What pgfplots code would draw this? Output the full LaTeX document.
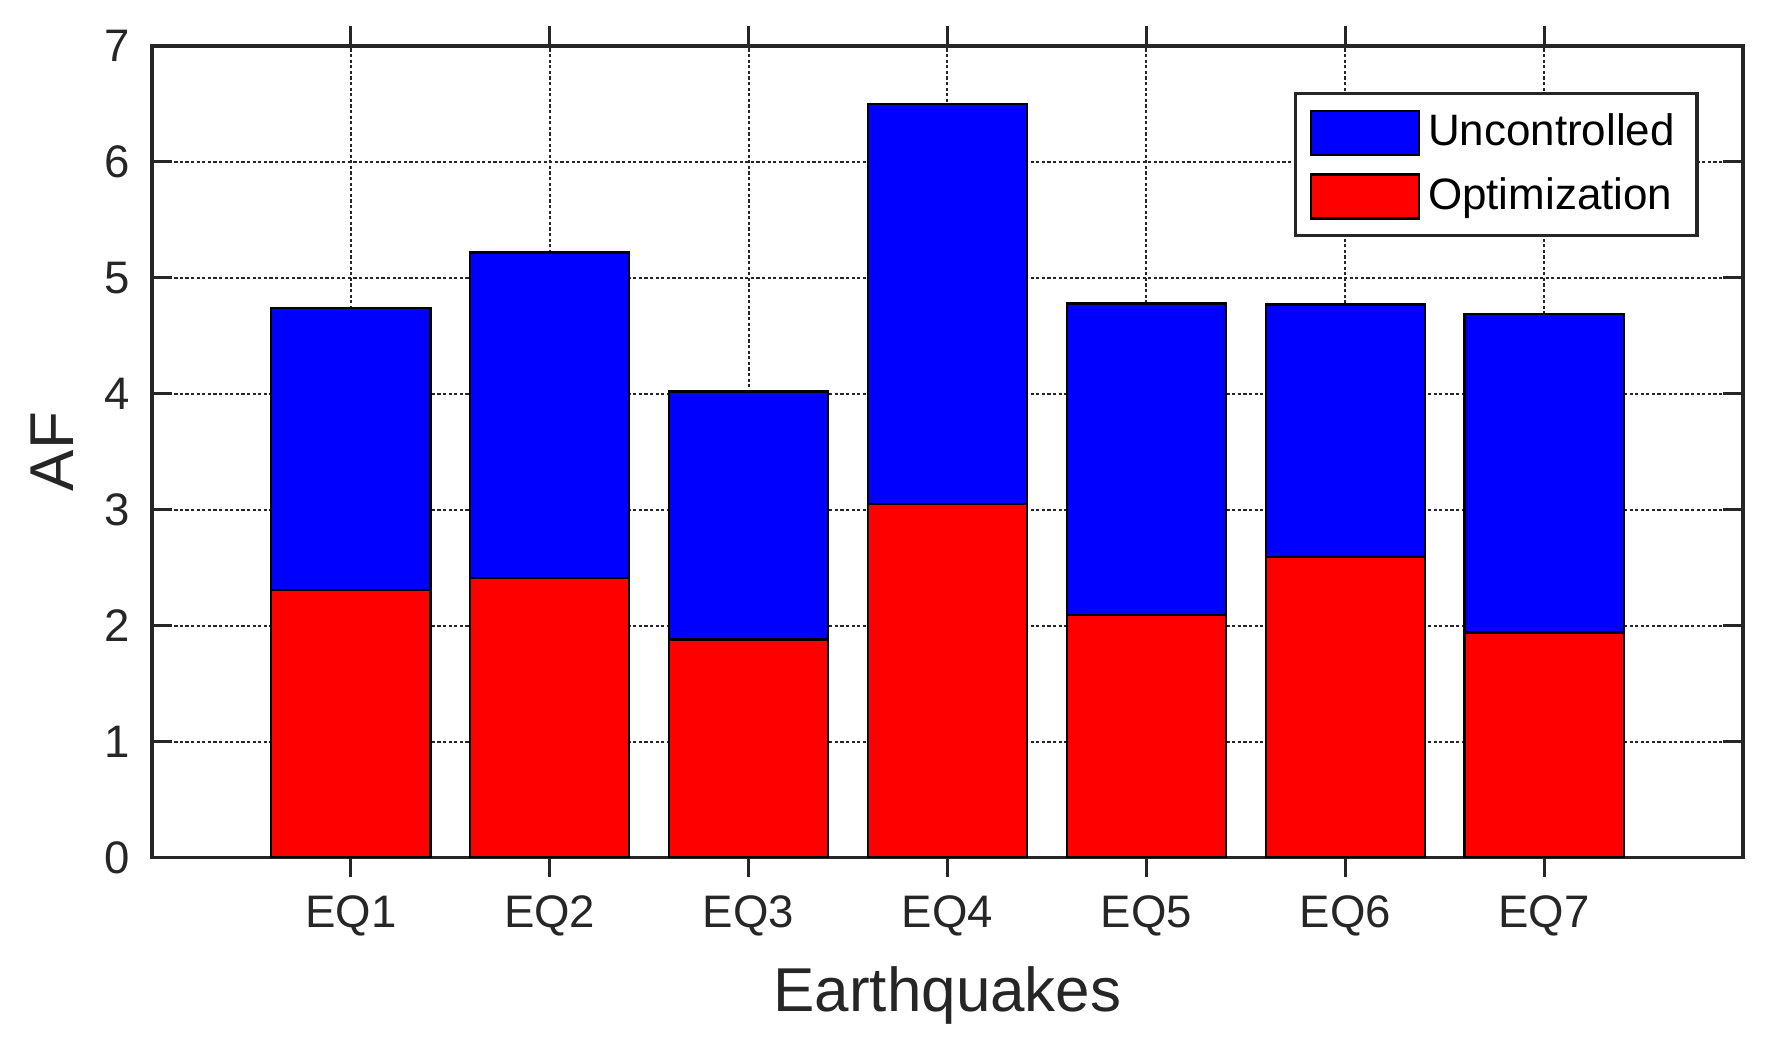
\documentclass[border=0pt]{standalone}
\usepackage{pgfplots}
\pgfplotsset{compat=1.18}
\usepackage{fontspec}
\setmainfont{Liberation Sans}
\definecolor{axgray}{gray}{0.15}
\pgfplotsset{boxlegend/.style={legend image code/.code={\draw[##1] (0pt,-5.5pt) rectangle (27pt,5.5pt);}}}
\begin{document}
\begin{tikzpicture}
\useasboundingbox (-38pt,-46.5pt) rectangle (407.75pt,214.5pt);
\begin{axis}[
  at={(0,0)}, anchor=south west,
  scale only axis, width=398pt, height=203pt,
  xmin=0, xmax=8, ymin=0, ymax=7,
  xtick={1,...,7}, xticklabels={EQ1,EQ2,EQ3,EQ4,EQ5,EQ6,EQ7},
  ytick={0,...,7},
  tick align=inside, major tick length=5pt,
  grid=major, major grid style={dash pattern=on 0.8pt off 0.6pt, axgray, line width=0.5pt},
  axis line style={axgray, line width=0.8pt},
  tick style={axgray, line width=0.8pt},
  ticklabel style={font=\fontsize{11.4}{13}\selectfont, text=axgray},
  xticklabel style={yshift=-1pt},
  yticklabel style={xshift=-2pt},
  /pgf/number format/assume math mode=true,
  xlabel={Earthquakes}, ylabel={AF},
  label style={font=\fontsize{15.5}{18}\selectfont, text=axgray},
  xlabel style={at={(axis description cs:0.5,-0.19)}, anchor=base},
  ylabel style={at={(axis description cs:-0.049,0.5)}, anchor=base},
  ybar, bar width=0.8,
  legend style={at={(0.972,0.943)}, anchor=north east, draw=axgray,
    line width=0.8pt, font=\fontsize{11}{13}\selectfont,
    inner xsep=3.5pt, inner ysep=3pt, row sep=2.5pt},
  legend cell align=left,
]
\addplot[bar shift=0pt, fill=blue, draw=black, line width=0.6pt, boxlegend]
  coordinates {(1,4.74) (2,5.22) (3,4.02) (4,6.50) (5,4.78) (6,4.77) (7,4.69)};
\addplot[bar shift=0pt, fill=red, draw=black, line width=0.6pt, boxlegend]
  coordinates {(1,2.31) (2,2.41) (3,1.88) (4,3.05) (5,2.09) (6,2.59) (7,1.94)};
\legend{Uncontrolled,Optimization}
\end{axis}
\end{tikzpicture}
\end{document}
